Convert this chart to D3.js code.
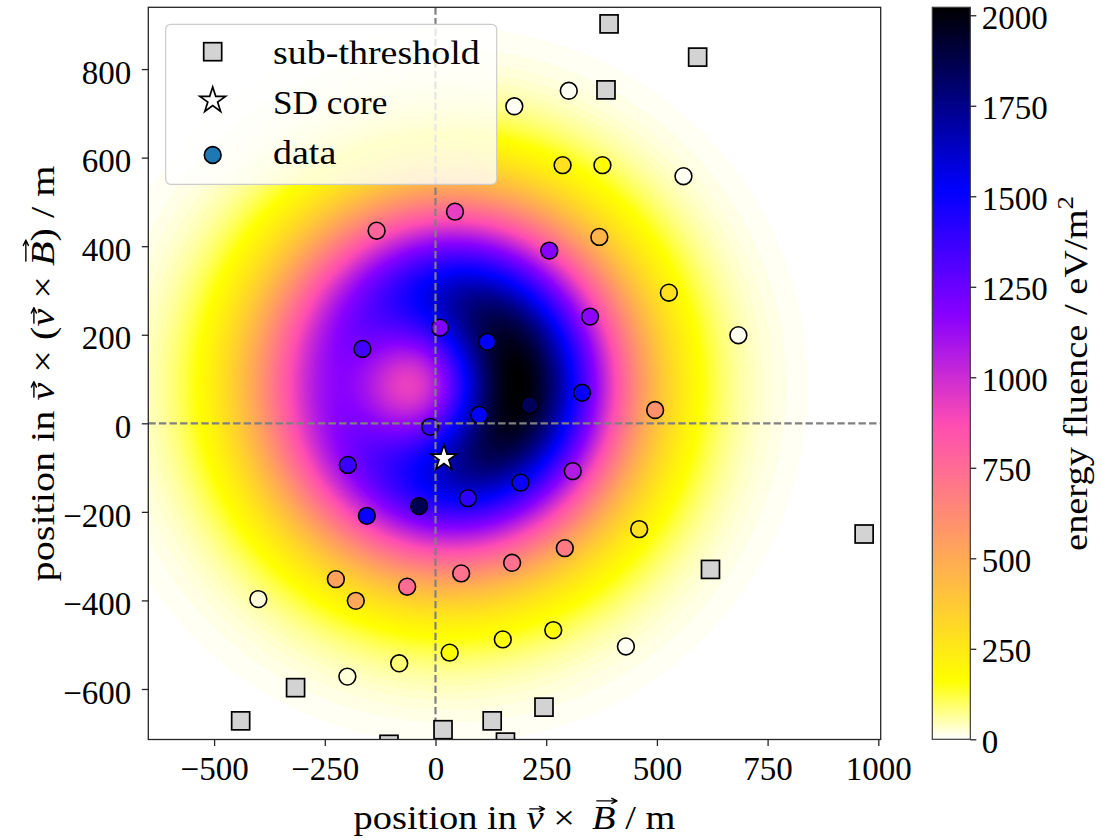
<!DOCTYPE html>
<html>
<head>
<meta charset="utf-8">
<script src="https://cdn.jsdelivr.net/npm/d3@7/dist/d3.min.js"></script>
<style>
  html, body { margin: 0; padding: 0; background: #fff; }
  svg text { font-family: "Liberation Serif", "Times New Roman", serif; fill: #000; }
</style>
</head>
<body>
<svg id="fig" width="1112" height="840"></svg>
<script>
// Radio stations: position in the shower plane (m) and measured energy fluence (eV/m^2)
const stationX = [178, 301, 287, 377, 560, 44, -133, 257, 370, 527, 684, 10, 117, 349, -165, 213, 331, 99, 496, -12, -198, 310, 73, 192, -37, -155, -225, -180, -64, 58, 173, 292, 460, -400, -199, -82, 32, 152, 266, 430];
const stationY = [716, 751, 583, 583, 558, 478, 435, 390, 421, 295, 199, 216, 184, 241, 168, 41, 69, 19, 30, -8, -94, -108, -169, -134, -187, -209, -352, -401, -369, -339, -315, -282, -239, -397, -572, -542, -518, -488, -467, -504];
const stationFluence = [10, 10, 280, 180, 15, 930, 780, 1170, 460, 290, 15, 1190, 1510, 1160, 1350, 1840, 1500, 1510, 600, 1390, 1370, 1070, 1400, 1490, 1860, 1490, 530, 510, 750, 720, 720, 690, 280, 30, 25, 90, 170, 160, 180, 15];

// Stations below the detection threshold
const subX = [392, 592, 385, 968, 621, 245, -316, -440, -105, 17, 128, 158];
const subY = [902, 827, 753, -250, -330, -641, -597, -672, -725, -692, -672, -720];

// Core position from the surface detector
const coreX = [19];
const coreY = [-79];

// Axis ticks
const xTicks = [-500, -250, 0, 250, 500, 750, 1000];
const yTicks = [-600, -400, -200, 0, 200, 400, 600, 800];
const cbTicks = [0, 250, 500, 750, 1000, 1250, 1500, 1750, 2000];

// Footprint model: wide Gaussian minus narrow Gaussian, with an asymmetry along v x B
const ldfA = 3057, ldfB = 2122, ldfSigma = 330, ldfSigmaInner = 180;
const ldfCoreX = -45, ldfCoreY = 85, ldfAsym = 0.0014;

const vmax = 2022;
const xDomain = [-648.6, 1005.4];
const yDomain = [-714.1, 939.5];

const box = { left: 148.3, right: 880.7, top: 7.3, bottom: 739.5 };
const cbBox = { left: 932.3, right: 970.3, top: 7.3, bottom: 739.3 };

const serif = '"Liberation Serif", "Times New Roman", serif';

const svg = d3.select("#fig");
const x = d3.scaleLinear().domain(xDomain).range([box.left, box.right]);
const y = d3.scaleLinear().domain(yDomain).range([box.bottom, box.top]);

// gnuplot2 colour map, used reversed (white = 0, black = max)
function gnuplot2(t) {
  const c = v => Math.max(0, Math.min(1, v));
  const r = c(t / 0.32 - 0.78125);
  const g = c(2 * t - 0.84);
  let b;
  if (t < 0.25) b = 4 * t;
  else if (t < 0.92) b = -2 * t + 1.84;
  else b = t / 0.08 - 11.5;
  return [r, g, c(b)];
}
const lut = d3.range(256).map(i => gnuplot2(1 - i / 255).map(v => Math.round(v * 255)));
const lutIndex = d3.scaleLinear().domain([0, vmax]).range([0, 255.999]).clamp(true);
const color = d3.scaleSequential(t => {
  const c = lut[Math.min(255, Math.floor(t * 256))];
  return d3.rgb(c[0], c[1], c[2]).formatHex();
}).domain([0, vmax]).clamp(true);

function fluence(px, py) {
  const dx = px - ldfCoreX, dy = py - ldfCoreY;
  const r2 = dx * dx + dy * dy;
  const h = ldfA * Math.exp(-r2 / (ldfSigma * ldfSigma)) - ldfB * Math.exp(-r2 / (ldfSigmaInner * ldfSigmaInner));
  return Math.max(0, h * Math.exp(ldfAsym * dx));
}

// clip region for everything inside the axes
svg.append("defs").append("clipPath").attr("id", "plotClip")
  .append("rect").attr("x", box.left).attr("y", box.top)
  .attr("width", box.right - box.left).attr("height", box.bottom - box.top);

// Background: model footprint rendered to a raster
const pw = Math.round(box.right - box.left), ph = Math.round(box.bottom - box.top);
const cnv = document.createElement("canvas");
cnv.width = pw; cnv.height = ph;
const ctx = cnv.getContext("2d");
const imgData = ctx.createImageData(pw, ph);
const colX = d3.scaleLinear().domain([0, pw]).range(xDomain);
const rowY = d3.scaleLinear().domain([0, ph]).range([yDomain[1], yDomain[0]]);
for (let j = 0; j < ph; j++) {
  const yv = rowY(j + 0.5);
  for (let i = 0; i < pw; i++) {
    const v = fluence(colX(i + 0.5), yv);
    const c = lut[Math.floor(lutIndex(v))];
    const k = (j * pw + i) * 4;
    imgData.data[k] = c[0]; imgData.data[k + 1] = c[1]; imgData.data[k + 2] = c[2]; imgData.data[k + 3] = 255;
  }
}
ctx.putImageData(imgData, 0, 0);

const plotG = svg.append("g").attr("clip-path", "url(#plotClip)");
plotG.append("image")
  .attr("x", box.left).attr("y", box.top)
  .attr("width", box.right - box.left).attr("height", box.bottom - box.top)
  .attr("preserveAspectRatio", "none")
  .attr("href", cnv.toDataURL());

// Measured stations
plotG.append("g").selectAll("circle")
  .data(d3.range(stationX.length))
  .join("circle")
  .attr("cx", i => x(stationX[i]))
  .attr("cy", i => y(stationY[i]))
  .attr("r", 8.4)
  .attr("fill", i => color(stationFluence[i]))
  .attr("stroke", "#000").attr("stroke-width", 1.6);

// Reference lines through the origin
const dash = "7.4,3.2";
plotG.append("line")
  .attr("x1", box.left).attr("x2", box.right).attr("y1", y(0)).attr("y2", y(0))
  .attr("stroke", "#808080").attr("stroke-width", 2.2).attr("stroke-dasharray", dash);
plotG.append("line")
  .attr("x1", x(0)).attr("x2", x(0)).attr("y1", box.top).attr("y2", box.bottom)
  .attr("stroke", "#808080").attr("stroke-width", 2.2).attr("stroke-dasharray", dash);

// Sub-threshold stations
const sq = 18;
plotG.append("g").selectAll("rect")
  .data(d3.range(subX.length))
  .join("rect")
  .attr("x", i => x(subX[i]) - sq / 2)
  .attr("y", i => y(subY[i]) - sq / 2)
  .attr("width", sq).attr("height", sq)
  .attr("fill", "#d3d3d3").attr("stroke", "#000").attr("stroke-width", 1.7);

// Five-pointed star marker
function starPath(R) {
  const rIn = R * 0.381966;
  const pts = d3.range(10).map(k => {
    const a = -Math.PI / 2 + k * Math.PI / 5;
    const rr = k % 2 === 0 ? R : rIn;
    return [rr * Math.cos(a), rr * Math.sin(a)];
  });
  return "M" + pts.map(p => p[0].toFixed(2) + "," + p[1].toFixed(2)).join("L") + "Z";
}
plotG.append("g").selectAll("path")
  .data(d3.range(coreX.length))
  .join("path")
  .attr("transform", i => `translate(${x(coreX[i])},${y(coreY[i])})`)
  .attr("d", starPath(13.5))
  .attr("fill", "#fff").attr("stroke", "#000").attr("stroke-width", 1.7)
  .attr("stroke-linejoin", "miter");

// Axes frame
svg.append("rect")
  .attr("x", box.left).attr("y", box.top)
  .attr("width", box.right - box.left).attr("height", box.bottom - box.top)
  .attr("fill", "none").attr("stroke", "#262626").attr("stroke-width", 1.3);

const tickFont = 33;
function styleAxis(g) {
  g.attr("font-family", serif).attr("font-size", tickFont);
  g.select(".domain").remove();
  g.selectAll(".tick line").attr("stroke", "#262626").attr("stroke-width", 1.3);
  g.selectAll(".tick text").attr("font-size", tickFont).attr("font-family", serif).attr("fill", "#000");
}
const fmt = d3.format("d");
svg.append("g").attr("transform", `translate(0,${box.bottom})`)
  .call(d3.axisBottom(x).tickValues(xTicks).tickSize(6.5).tickPadding(11).tickFormat(fmt))
  .call(styleAxis);
svg.append("g").attr("transform", `translate(${box.left},0)`)
  .call(d3.axisLeft(y).tickValues(yTicks).tickSize(6.5).tickPadding(10.5).tickFormat(fmt))
  .call(styleAxis)
  .call(g => g.selectAll(".tick text").attr("dy", "0.43em"));

// Colour bar
const cb = d3.scaleLinear().domain([0, vmax]).range([cbBox.bottom, cbBox.top]);
const grad = svg.select("defs").append("linearGradient").attr("id", "cbGrad")
  .attr("x1", 0).attr("y1", 1).attr("x2", 0).attr("y2", 0);
grad.selectAll("stop").data(d3.range(256)).join("stop")
  .attr("offset", i => (i / 255))
  .attr("stop-color", i => d3.rgb(lut[i][0], lut[i][1], lut[i][2]).formatHex());
svg.append("rect")
  .attr("x", cbBox.left).attr("y", cbBox.top)
  .attr("width", cbBox.right - cbBox.left).attr("height", cbBox.bottom - cbBox.top)
  .attr("fill", "url(#cbGrad)").attr("stroke", "#3a3a3a").attr("stroke-width", 1.2);
svg.append("g").attr("transform", `translate(${cbBox.right},0)`)
  .call(d3.axisRight(cb).tickValues(cbTicks).tickSize(6).tickPadding(5.5).tickFormat(fmt))
  .call(styleAxis)
  .call(g => g.selectAll(".tick text").attr("dy", "0.39em"));

// Labels with vector arrows drawn above the italic symbols
function mathLabel(segs, opts) {
  const outer = svg.append("g").attr("transform", opts.transform);
  const inner = outer.append("g");
  const fs = opts.fontSize;
  const text = inner.append("text").attr("font-size", fs).attr("font-family", serif);
  const arrows = [];
  let idx = 0;
  segs.forEach(s => {
    const ts = text.append("tspan").text(s.t);
    if (s.it) ts.attr("font-style", "italic");
    if (s.sup) ts.attr("font-size", fs * 0.7).attr("dy", -fs * 0.42);
    if (s.arrow) arrows.push({ i: idx, cap: !!s.cap });
    idx += s.t.length;
  });
  const w = text.node().getComputedTextLength();
  arrows.forEach(a => {
    const e = text.node().getExtentOfChar(a.i);
    const ya = a.cap ? -0.84 * fs : -0.6 * fs;
    const x0 = e.x + e.width * 0.2, x1 = e.x + e.width * 1.05;
    inner.append("path")
      .attr("d", `M${x0},${ya}H${x1}M${x1 - 0.13 * fs},${ya - 0.075 * fs}L${x1},${ya}L${x1 - 0.13 * fs},${ya + 0.075 * fs}`)
      .attr("fill", "none").attr("stroke", "#000").attr("stroke-width", 1.4)
      .attr("stroke-linecap", "round").attr("stroke-linejoin", "round");
  });
  const k = opts.width ? opts.width / w : 1;
  inner.attr("transform", `scale(${k},1) translate(${-w / 2},0)`);
}

mathLabel([
  { t: "position in " }, { t: "v", it: true, arrow: true }, { t: " ×\u2009 " },
  { t: "B", it: true, arrow: true, cap: true }, { t: " / m" }
], { transform: "translate(514.5,829)", fontSize: 33.5, width: 322 });

mathLabel([
  { t: "position in " }, { t: "v", it: true, arrow: true }, { t: " × (" },
  { t: "v", it: true, arrow: true }, { t: " × " }, { t: "B", it: true, arrow: true, cap: true },
  { t: ") / m" }
], { transform: "translate(54,373.4) rotate(-90)", fontSize: 33.5, width: 416 });

mathLabel([
  { t: "energy fluence / eV/m" }, { t: "2", sup: true }
], { transform: "translate(1087,373.4) rotate(-90)", fontSize: 33.5, width: 355 });

// Legend
const leg = svg.append("g");
leg.append("rect")
  .attr("x", 165.7).attr("y", 24.3).attr("width", 331).attr("height", 160)
  .attr("rx", 5).attr("ry", 5)
  .attr("fill", "#fff").attr("fill-opacity", 0.8)
  .attr("stroke", "#cccccc").attr("stroke-width", 1.2);
const legItems = [
  { label: "sub-threshold", w: 206.7, y: 51.7, base: 64 },
  { label: "SD core", w: 114.5, y: 100.5, base: 113.5 },
  { label: "data", w: 63.3, y: 155, base: 163.5 }
];
const mx = 212.7;
leg.append("rect").attr("x", mx - sq / 2).attr("y", legItems[0].y - sq / 2)
  .attr("width", sq).attr("height", sq)
  .attr("fill", "#d3d3d3").attr("stroke", "#000").attr("stroke-width", 1.7);
leg.append("path").attr("transform", `translate(${mx},${legItems[1].y})`)
  .attr("d", starPath(13.5)).attr("fill", "#fff").attr("stroke", "#000").attr("stroke-width", 1.7);
leg.append("circle").attr("cx", mx).attr("cy", legItems[2].y).attr("r", 8.4)
  .attr("fill", "#1f77b4").attr("stroke", "#000").attr("stroke-width", 1.6);
leg.selectAll("text.lab").data(legItems).join("text")
  .attr("class", "lab")
  .attr("x", 273).attr("y", d => d.base)
  .attr("font-size", 33.5).attr("font-family", serif)
  .attr("textLength", d => d.w).attr("lengthAdjust", "spacingAndGlyphs")
  .text(d => d.label);
</script>
</body>
</html>
